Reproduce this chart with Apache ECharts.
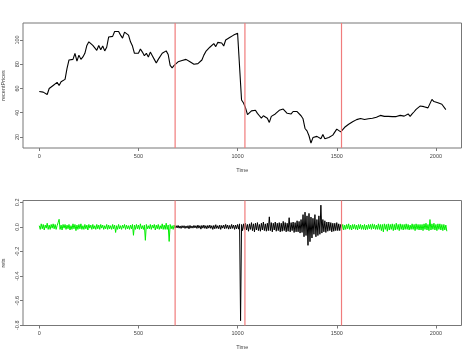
<!DOCTYPE html>
<html><head><meta charset="utf-8">
<script src="https://cdn.jsdelivr.net/npm/echarts@6/dist/echarts.min.js"></script>
<style>html,body{margin:0;padding:0;background:#fff}#c{width:474px;height:355px}</style>
</head><body><div id="c"></div>
<script>
// ---- data ----
const priceStep = 10; // time step between price readings, starting at Time 0
const prices = [
 57.5,58.5,57.0,58.0,55.0,60.0,61.5,62.5,61.0,65.0,
 62.5,65.5,64.0,67.5,76.5,83.5,82.0,84.0,89.0,82.5,
 87.5,84.0,86.0,89.0,95.5,98.5,97.0,95.5,94.0,91.5,
 95.5,92.0,95.0,91.0,94.0,102.5,104.0,103.0,107.0,108.5,
 107.0,104.0,101.5,106.5,106.0,104.0,98.5,95.0,89.0,90.5,
 89.0,92.5,90.0,87.0,89.0,86.0,90.0,87.0,84.0,81.0,
 84.0,83.5,89.0,88.0,91.0,88.0,79.0,77.0,79.0,80.5,
 82.0,80.5,83.0,84.5,84.0,83.5,82.0,82.5,80.0,79.5,
 80.5,82.0,83.5,87.5,90.5,92.0,94.0,95.5,97.0,94.5,
 98.0,99.5,97.5,95.0,100.0,101.5,102.0,102.0,104.0,105.0,
 105.5,106.5,50.5,48.0,44.0,38.5,39.5,41.5,41.0,42.0,
 39.5,37.5,35.5,37.5,36.5,35.5,32.0,37.0,38.0,39.0,
 38.0,42.0,43.0,43.0,42.3,39.5,38.0,39.0,41.0,42.0,
 41.0,40.5,37.5,35.0,27.0,25.0,21.0,15.0,19.5,20.5,
 20.5,21.5,18.5,22.0,18.5,18.5,19.5,20.5,21.5,24.0,
 26.5,25.8,24.2,25.8,28.0,29.5,30.5,31.5,32.5,33.5,
 34.3,34.8,35.3,34.8,34.4,35.5,35.0,34.0,35.5,36.6,
 36.3,36.5,37.8,38.6,37.0,35.8,37.0,35.8,36.8,37.2,
 36.8,36.8,37.8,37.6,37.2,38.5,39.0,37.0,39.0,40.8,
 42.8,43.8,45.5,46.3,45.0,46.3,44.0,47.5,51.0,49.2,
 50.4,48.2,48.0,47.0,48.5,42.5
];
const retStep = 5; // time step between return readings, starting at Time 0
const rets = [
 0.01,-0.02,0.025,-0.015,0.02,-0.025,0.015,-0.01,0.03,-0.02,
 0.015,-0.02,0.02,-0.01,0.025,-0.015,0.02,-0.02,0.01,0.035,
 0.062,-0.02,0.015,-0.025,0.02,-0.01,0.02,-0.02,0.015,-0.015,
 0.02,-0.025,0.01,-0.02,0.025,-0.015,0.02,-0.03,0.015,-0.02,
 0.02,-0.015,0.025,-0.02,0.01,-0.02,0.02,-0.015,0.015,-0.025,
 0.02,-0.01,0.015,-0.02,0.02,-0.015,0.01,-0.02,0.02,-0.015,
 0.015,-0.02,0.02,-0.01,0.015,-0.02,0.01,-0.015,0.02,-0.02,
 0.015,-0.015,0.01,-0.02,0.02,-0.015,0.015,-0.045,0.01,-0.02,
 0.02,-0.015,0.01,-0.02,0.015,-0.01,0.02,-0.02,0.015,-0.015,
 0.01,-0.02,0.015,-0.015,0.02,-0.068,0.015,-0.02,0.02,-0.015,
 0.015,-0.02,0.025,-0.015,0.01,-0.02,0.015,-0.109,0.02,-0.015,
 0.01,-0.015,0.02,-0.02,0.015,-0.01,0.02,-0.025,0.015,-0.015,
 0.02,-0.02,0.01,-0.015,0.025,-0.02,0.015,-0.02,0.03,-0.02,
 0.015,-0.118,0.02,-0.015,0.01,-0.02,0.015,
 -0.01,0.01,-0.008,0.012,-0.01,0.008,-0.012,0.01,-0.008,0.01,
 -0.012,0.008,-0.01,0.01,-0.015,0.012,-0.01,0.008,-0.01,0.012,
 -0.008,0.01,-0.012,0.015,-0.01,0.01,-0.018,0.012,-0.01,0.015,
 -0.012,0.01,-0.015,0.012,-0.01,0.015,-0.012,0.01,-0.02,0.012,
 -0.015,0.018,-0.012,0.01,-0.015,0.015,-0.02,0.012,-0.01,0.015,
 -0.015,0.02,-0.012,0.015,-0.018,0.012,-0.015,0.02,-0.012,0.015,
 -0.02,0.015,-0.015,0.02,-0.018,0.025,
 -0.763,
 0.02,-0.03,0.025,-0.02,0.03,-0.025,0.02,-0.035,0.025,
 -0.02,0.035,-0.03,0.025,-0.04,0.03,-0.025,0.035,-0.03,0.02,
 -0.035,0.03,-0.025,0.04,-0.03,0.025,-0.035,0.03,-0.03,0.082,
 -0.03,0.035,-0.04,0.03,-0.025,0.04,-0.035,0.03,-0.03,0.035,
 -0.04,0.03,-0.035,0.045,-0.03,0.035,-0.04,0.03,-0.035,0.075,
 -0.04,0.035,-0.03,0.04,-0.045,0.035,-0.04,0.05,-0.04,0.045,
 -0.05,0.06,-0.045,0.1,-0.08,0.12,-0.07,0.09,-0.15,0.11,
 -0.12,0.08,-0.09,0.07,-0.06,0.1,-0.08,0.06,-0.07,0.09,
 -0.06,0.177,-0.05,0.06,-0.04,0.05,-0.045,0.04,-0.035,0.04,
 -0.03,0.035,-0.04,0.03,-0.035,0.03,-0.03,0.035,-0.03,0.025,
 -0.03,0.02,
 -0.02,0.02,-0.025,0.015,-0.02,0.02,-0.015,0.025,-0.02,0.015,
 -0.025,0.02,-0.015,0.02,-0.02,0.015,-0.025,0.02,-0.015,0.02,
 -0.02,0.015,-0.02,0.02,-0.025,0.015,-0.02,0.02,-0.015,0.02,
 -0.02,0.025,-0.015,0.02,-0.02,0.015,-0.02,0.025,-0.02,0.02,
 -0.03,0.02,-0.04,0.025,-0.02,0.02,-0.035,0.025,-0.025,0.02,
 -0.02,0.025,-0.03,0.02,-0.025,0.03,-0.02,0.02,-0.03,0.025,
 -0.02,0.02,-0.025,0.02,-0.02,0.025,-0.02,0.02,-0.025,0.015,
 -0.02,0.025,-0.02,0.02,-0.03,0.025,-0.02,0.02,-0.025,0.02,
 -0.025,0.02,-0.03,0.025,-0.02,0.03,-0.025,0.02,-0.03,0.06,
 -0.025,0.025,-0.02,0.03,-0.025,0.02,-0.03,0.025,-0.02,0.025,
 -0.025,0.02,-0.03,0.02,-0.025,0.015,-0.035
];
const regimeBreaks = [685, 1037, 1524];   // red vertical lines (Time)
const calmEnd = 685, calmStart = 1525;      // green (calm) vs black (turbulent) returns
const xTicks = [0, 500, 1000, 1500, 2000];
const priceTicks = [20, 40, 60, 80, 100];
const retTicks = [-0.8, -0.6, -0.4, -0.2, 0.0, 0.2];

// ---- chart ----
const priceRange = [10.9, 114.0];
const retRange = [-0.802, 0.215];
const fontFam = '"Liberation Sans", Arial, Helvetica, sans-serif';
const lab = { fontSize: 5.5, color: '#444', fontFamily: fontFam };
const priceData = prices.map((v, i) => [i * priceStep, v]);
const retData = rets.map((v, i) => [i * retStep, v]);
const retCalm1 = retData.filter(d => d[0] <= calmEnd);
const retTurb = retData.filter(d => d[0] >= calmEnd && d[0] <= calmStart);
const retCalm2 = retData.filter(d => d[0] >= calmStart);
const redColor = '#f07c7c';

function xAxisFor(g) {
  return {
    gridIndex: g, type: 'value', min: -82, max: 2129,
    axisLine: { show: false, onZero: false }, splitLine: { show: false },
    axisTick: { show: true, length: 3, customValues: xTicks, lineStyle: { color: '#777', width: 1 } },
    axisLabel: { customValues: xTicks, margin: 5, formatter: v => String(v), ...lab },
    name: 'Time', nameLocation: 'middle', nameGap: 19,
    nameTextStyle: { fontSize: 5.5, color: '#444', fontFamily: fontFam }
  };
}
function vLines(axisIdx, range) {
  return regimeBreaks.map(x => ({
    type: 'line', xAxisIndex: axisIdx, yAxisIndex: axisIdx, symbol: 'none', silent: true, z: 5,
    data: [[x, range[0]], [x, range[1]]],
    lineStyle: { color: redColor, width: 1.2 }
  }));
}

const chart = echarts.init(document.getElementById('c'), null, { renderer: 'canvas' });
chart.setOption({
  animation: false,
  backgroundColor: '#fff',
  grid: [
    { left: 23, right: 12.5, top: 23, height: 125, show: true, borderColor: '#777', borderWidth: 1,
      backgroundColor: 'transparent', containLabel: false, outerBoundsMode: 'none' },
    { left: 23, right: 12.5, top: 200.5, height: 125, show: true, borderColor: '#777', borderWidth: 1,
      backgroundColor: 'transparent', containLabel: false, outerBoundsMode: 'none' }
  ],
  xAxis: [xAxisFor(0), xAxisFor(1)],
  yAxis: [
    {
      gridIndex: 0, type: 'value', min: priceRange[0], max: priceRange[1],
      axisLine: { show: false, onZero: false }, splitLine: { show: false },
      axisTick: { show: true, length: 3, customValues: priceTicks, lineStyle: { color: '#777' } },
      axisLabel: { customValues: priceTicks, rotate: 90, margin: 3, ...lab },
      name: 'recentPrices', nameLocation: 'middle', nameRotate: 90, nameGap: 17,
      nameTextStyle: { fontSize: 5.5, color: '#444', fontFamily: fontFam }
    },
    {
      gridIndex: 1, type: 'value', min: retRange[0], max: retRange[1],
      axisLine: { show: false, onZero: false }, splitLine: { show: false },
      axisTick: { show: true, length: 3, customValues: retTicks, lineStyle: { color: '#777' } },
      axisLabel: { customValues: retTicks, rotate: 90, margin: 3, formatter: v => Number(v).toFixed(1), ...lab },
      name: 'rets', nameLocation: 'middle', nameRotate: 90, nameGap: 17,
      nameTextStyle: { fontSize: 5.5, color: '#444', fontFamily: fontFam }
    }
  ],
  series: [
    { type: 'line', xAxisIndex: 0, yAxisIndex: 0, data: priceData, symbol: 'none', silent: true,
      lineStyle: { color: '#000', width: 1.1 }, z: 3 },
    { type: 'line', xAxisIndex: 1, yAxisIndex: 1, data: retCalm1, symbol: 'none', silent: true,
      lineStyle: { color: '#00ee00', width: 1 } },
    { type: 'line', xAxisIndex: 1, yAxisIndex: 1, data: retTurb, symbol: 'none', silent: true,
      lineStyle: { color: '#000', width: 1 } },
    { type: 'line', xAxisIndex: 1, yAxisIndex: 1, data: retCalm2, symbol: 'none', silent: true,
      lineStyle: { color: '#00ee00', width: 1 } },
    ...vLines(0, priceRange),
    ...vLines(1, retRange)
  ]
});
</script>
</body></html>
